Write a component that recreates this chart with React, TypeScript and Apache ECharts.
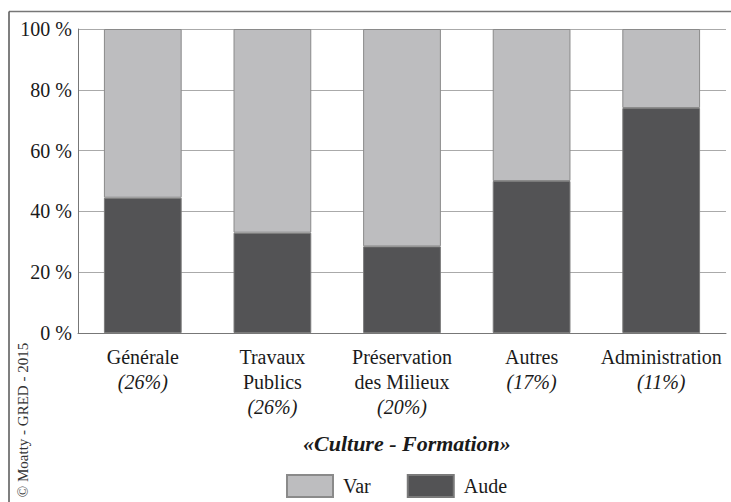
import React, { useEffect, useRef } from "react";
import * as echarts from "echarts";

const categories = ["Générale", "Travaux\nPublics", "Préservation\ndes Milieux", "Autres", "Administration"];
const shares = ["(26%)", "(26%)", "(20%)", "(17%)", "(11%)"];
const audeValues = [44.5, 33, 28.5, 50, 74];
const varValues = [55.5, 67, 71.5, 50, 26];
const yTicks = { min: 0, max: 100, interval: 20 };

const FONT = "Times New Roman";

export default function App() {
  const ref = useRef<HTMLDivElement>(null);
  useEffect(() => {
    if (!ref.current) return;
    const chart = echarts.init(ref.current, undefined, { renderer: "svg" });
    const labelMap: Record<string, string> = {};
    categories.forEach((c, i) => {
      labelMap[c] =
        c
          .split("\n")
          .map((l) => `{n|${l}}`)
          .join("\n") + `\n{i|${shares[i]}}`;
    });
    chart.setOption({
      animation: false,
      textStyle: { fontFamily: FONT },
      grid: { left: 78, right: 5, top: 29, bottom: 169, containLabel: false },
      legend: {
        left: 286,
        top: 474,
        padding: 0,
        itemWidth: 46,
        itemHeight: 22,
        itemGap: 36,
        icon: "rect",
        data: ["Var", "Aude"],
        textStyle: { fontFamily: FONT, fontSize: 20, color: "#1a1a1a", padding: [0, 0, 0, 5] },
      },
      xAxis: {
        type: "category",
        data: categories,
        axisLine: { lineStyle: { color: "#777", width: 1 } },
        axisTick: { show: false },
        axisLabel: {
          interval: 0,
          margin: 11,
          fontFamily: FONT,
          fontSize: 20,
          color: "#1a1a1a",
          formatter: (v: string) => labelMap[v],
          rich: {
            n: { fontFamily: FONT, fontSize: 20, color: "#1a1a1a", lineHeight: 25 },
            i: { fontFamily: FONT, fontSize: 20, color: "#1a1a1a", fontStyle: "italic", lineHeight: 25 },
          },
        },
      },
      yAxis: {
        type: "value",
        min: yTicks.min,
        max: yTicks.max,
        interval: yTicks.interval,
        axisLine: { show: true, lineStyle: { color: "#777", width: 1 } },
        axisTick: { show: false },
        axisLabel: {
          formatter: "{value} %",
          margin: 6,
          fontFamily: FONT,
          fontSize: 20,
          color: "#1a1a1a",
          padding: [4, 0, 0, 0],
        },
        splitLine: { lineStyle: { color: "#aaa", width: 1 } },
      },
      series: [
        {
          name: "Aude",
          type: "bar",
          stack: "s",
          barWidth: "60%",
          data: audeValues,
          itemStyle: { color: "#535355", borderColor: "#7a7a7a", borderWidth: 1 },
        },
        {
          name: "Var",
          type: "bar",
          stack: "s",
          barWidth: "60%",
          data: varValues,
          itemStyle: { color: "#bdbdbf", borderColor: "#8a8a8a", borderWidth: 1 },
        },
      ],
      graphic: [
        { type: "line", shape: { x1: 9, y1: 11.5, x2: 731, y2: 11.5 }, style: { stroke: "#777", lineWidth: 1.5 } },
        { type: "line", shape: { x1: 9, y1: 11.5, x2: 9, y2: 502 }, style: { stroke: "#555", lineWidth: 1.5 } },
        {
          type: "text",
          x: 303,
          y: 443,
          style: {
            text: "«Culture - Formation»",
            fontFamily: FONT,
            fontSize: 22,
            fontWeight: "bold",
            fontStyle: "italic",
            fill: "#1a1a1a",
            textAlign: "left",
            textVerticalAlign: "middle",
          },
        },
        {
          type: "text",
          x: 23,
          y: 420,
          rotation: Math.PI / 2,
          style: {
            text: "© Moatty - GRED - 2015",
            fontFamily: FONT,
            fontSize: 15,
            fill: "#333",
            textAlign: "center",
            textVerticalAlign: "middle",
          },
        },
      ],
    });
    return () => chart.dispose();
  }, []);
  return <div ref={ref} style={{ position: "absolute", left: 0, top: 0, width: 731, height: 502, background: "#fff" }} />;
}
